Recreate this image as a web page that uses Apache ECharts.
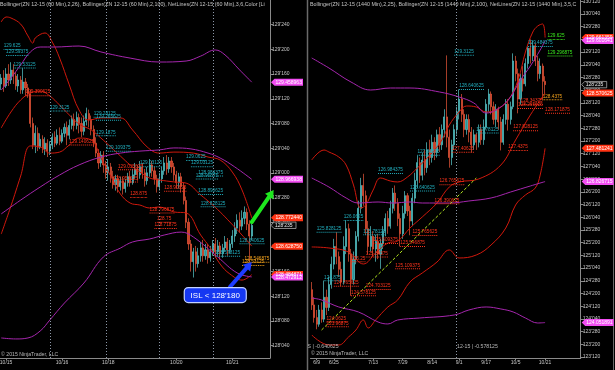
<!DOCTYPE html>
<html><head><meta charset="utf-8">
<script src="https://cdn.jsdelivr.net/npm/echarts@6/dist/echarts.min.js"></script>
<style>html,body{margin:0;padding:0;background:#000;}#c{width:615px;height:370px;}</style>
</head><body><div id="c"></div>
<script>
// ---------- DATA ----------
// Left panel: ZN 12-15 60-minute bars [open, close, low, high]
const leftCandles = [
[129.45,129.48,129.42,129.50],[129.48,129.44,129.41,129.52],[129.44,129.50,129.43,129.53],[129.50,129.47,129.44,129.55],
[129.47,129.52,129.45,129.56],[129.52,129.49,129.45,129.55],[129.49,129.44,129.42,129.51],[129.44,129.47,129.41,129.50],
[129.47,129.42,129.40,129.49],[129.42,129.46,129.40,129.53],[129.46,129.43,129.39,129.48],[129.43,129.40,129.38,129.45],
[129.40,129.25,129.23,129.42],[129.25,129.14,129.12,129.28],[129.14,129.20,129.10,129.24],[129.20,129.13,129.11,129.23],
[129.13,129.17,129.12,129.20],[129.17,129.12,129.10,129.19],[129.12,129.15,129.09,129.18],[129.15,129.11,129.08,129.17],
[129.11,129.14,129.09,129.16],[129.14,129.18,129.12,129.20],[129.18,129.15,129.13,129.21],[129.15,129.19,129.14,129.22],
[129.19,129.16,129.14,129.23],[129.16,129.20,129.15,129.22],[129.20,129.23,129.18,129.25],[129.23,129.19,129.14,129.26],
[129.19,129.24,129.17,129.27],[129.24,129.27,129.22,129.29],[129.27,129.24,129.21,129.30],[129.24,129.28,129.22,129.31],
[129.28,129.25,129.20,129.30],[129.25,129.21,129.18,129.28],[129.21,129.26,129.19,129.29],[129.26,129.30,129.24,129.33],
[129.30,129.27,129.23,129.32],[129.27,129.22,129.19,129.29],[129.22,129.15,129.13,129.24],[129.15,129.10,129.08,129.18],
[129.10,129.05,129.02,129.12],[129.05,129.09,129.03,129.11],[129.09,129.04,129.00,129.11],[129.04,129.00,128.97,129.06],
[129.00,129.03,128.96,129.07],[129.03,128.98,128.95,129.05],[128.98,128.94,128.92,129.01],[128.94,128.97,128.91,128.99],
[128.97,128.93,128.90,128.99],[128.93,128.96,128.91,128.98],[128.96,128.92,128.89,128.98],[128.92,128.95,128.90,128.97],
[128.95,128.98,128.93,129.00],[128.98,128.95,128.93,129.01],[128.95,128.99,128.94,129.02],[128.99,129.02,128.97,129.05],
[129.02,128.99,128.96,129.04],[128.99,129.03,128.97,129.06],[129.03,129.00,128.97,129.05],[129.00,128.96,128.93,129.02],
[128.96,129.00,128.94,129.03],[129.00,129.04,128.98,129.07],[129.04,129.01,128.98,129.06],[129.01,128.97,128.94,129.03],
[128.97,128.93,128.90,128.99],[128.93,128.97,128.91,129.00],[128.97,129.01,128.95,129.03],[129.01,129.05,128.99,129.08],
[129.05,129.02,128.99,129.09],[129.02,129.06,129.00,129.08],[129.06,129.03,129.00,129.08],[129.03,128.99,128.96,129.05],
[128.99,128.95,128.92,129.01],[128.95,128.98,128.92,129.00],[128.98,128.93,128.90,129.00],[128.93,128.86,128.84,128.95],
[128.86,128.75,128.72,128.88],[128.75,128.64,128.61,128.77],[128.64,128.55,128.50,128.66],[128.55,128.60,128.47,128.62],
[128.60,128.54,128.50,128.63],[128.54,128.58,128.52,128.62],[128.58,128.62,128.55,128.65],[128.62,128.58,128.55,128.66],
[128.58,128.61,128.56,128.64],[128.61,128.57,128.54,128.64],[128.57,128.60,128.55,128.63],[128.60,128.64,128.58,128.66],
[128.64,128.60,128.57,128.67],[128.60,128.63,128.58,128.66],[128.63,128.59,128.56,128.65],[128.59,128.62,128.57,128.64],
[128.62,128.65,128.60,128.68],[128.65,128.61,128.58,128.67],[128.61,128.64,128.59,128.66],[128.64,128.68,128.62,128.71],
[128.68,128.72,128.65,128.75],[128.72,128.76,128.69,128.79],[128.76,128.73,128.70,128.80],[128.73,128.77,128.71,128.81],
[128.77,128.80,128.74,128.83],[128.80,128.74,128.71,128.82],[128.74,128.68,128.55,128.76],[128.68,128.734375,128.66,128.75]
];
// Right panel: ZN 12-15 daily bars [open, close, low, high]
const rightCandles = [
[124.70,124.40,124.30,124.85],[124.40,124.15,124.05,124.55],[124.15,124.02,123.92,124.30],[124.02,124.30,123.97,124.40],
[124.30,124.12,124.05,124.45],[124.12,124.55,124.06,124.88],[124.55,124.35,124.20,124.70],[124.35,124.80,124.28,124.95],
[124.80,125.20,124.72,125.35],[125.20,125.55,125.10,125.70],[125.55,125.35,125.20,125.83],[125.35,125.10,124.95,125.45],
[125.10,124.85,124.77,125.25],[124.85,125.55,124.80,125.75],[125.55,125.90,125.40,126.06],[125.90,125.40,125.25,126.00],
[125.40,124.90,124.58,125.50],[124.90,125.30,124.80,125.45],[125.30,125.75,125.20,125.85],[125.75,126.30,125.65,126.45],
[126.30,126.75,126.20,126.90],[126.75,126.55,126.35,126.98],[126.55,125.90,125.78,126.65],[125.90,125.55,125.40,126.05],
[125.55,125.75,125.45,125.95],[125.75,125.50,125.35,125.85],[125.50,125.65,125.25,125.78],[125.65,125.40,125.30,125.80],
[125.40,125.60,125.11,125.70],[125.60,125.85,125.50,125.95],[125.85,126.10,125.75,126.20],[126.10,125.95,125.80,126.25],
[125.95,126.30,125.90,126.45],[126.30,126.60,126.20,126.70],[126.60,126.40,126.25,126.75],[126.40,126.10,125.95,126.50],
[126.10,125.80,125.55,126.20],[125.80,126.20,125.70,126.35],[126.20,126.55,126.10,126.64],[126.55,126.25,126.15,126.60],
[126.25,126.05,125.77,126.35],[126.05,126.50,125.95,126.60],[126.50,126.85,126.40,127.00],[126.85,127.20,126.70,127.34],
[127.20,126.95,126.80,127.30],[126.95,127.25,126.85,127.40],[127.25,127.10,126.95,127.45],[127.10,127.45,127.00,127.60],
[127.45,127.30,127.15,127.65],[127.30,127.60,127.20,127.75],[127.60,127.40,127.25,127.70],[127.40,127.75,127.30,127.85],
[127.75,127.55,127.41,127.90],[127.55,127.85,127.45,127.95],[127.85,128.10,127.70,128.25],[128.10,127.70,127.50,129.31],
[127.70,127.30,127.10,127.85],[127.30,127.55,127.15,127.65],[127.55,127.85,127.45,127.95],[127.85,128.20,127.75,128.30],
[128.20,128.45,128.05,128.64],[128.45,128.15,128.00,128.55],[128.15,127.85,127.70,128.25],[127.85,128.05,127.75,128.15],
[128.05,127.80,127.60,128.15],[127.80,127.55,127.40,127.90],[127.55,127.75,127.45,127.85],[127.75,127.60,127.45,127.78],
[127.60,127.85,127.50,127.95],[127.85,127.65,127.55,127.95],[127.65,127.90,127.55,128.05],[127.90,128.35,127.85,128.45],
[128.35,128.55,128.20,128.65],[128.55,128.30,128.15,128.60],[128.30,128.05,127.95,128.40],[128.05,128.25,127.90,128.35],
[128.25,128.00,127.85,128.30],[128.00,127.60,127.44,128.10],[127.60,128.05,127.55,128.15],[128.05,128.35,127.95,128.45],
[128.35,128.05,127.83,128.45],[128.05,128.30,127.95,128.40],[128.30,129.20,128.25,129.35],[129.20,128.95,128.80,129.30],
[128.95,128.45,128.17,129.05],[128.45,128.85,128.34,128.95],[128.85,128.75,128.60,129.10],[128.75,129.15,128.70,129.25],
[129.15,129.45,129.05,129.48],[129.45,129.30,129.15,129.625],[129.30,129.50,129.20,129.60],[129.50,129.20,129.10,129.55],
[129.20,128.95,128.80,129.30],[128.95,129.10,128.85,129.25],[129.10,128.80,128.44,129.15],[128.80,128.734375,128.55,128.90]
];

// Bollinger bands [barIndex, price]
const leftBB26Upper = [[0,129.764],[2,129.789],[4,129.784],[8,129.753],[11,129.693],[13,129.657],[14,129.683],[18,129.708],[21,129.662],[24,129.581],[28,129.445],[32,129.318],[36,129.267],[41,129.278],[49,129.278],[54,129.217],[60,129.131],[65,129.100],[71,129.105],[79,129.100],[85,129.080],[90,129.065],[95,129.004],[99,128.913],[103,128.772]];
const leftBB26Mid = [[0,129.227],[4,129.308],[8,129.369],[12,129.404],[16,129.414],[20,129.389],[24,129.343],[28,129.293],[32,129.247],[37,129.217],[41,129.176],[45,129.131],[49,129.085],[53,129.040],[57,129.004],[61,128.974],[65,128.964],[71,128.954],[76,128.948],[82,128.888],[86,128.847],[90,128.802],[94,128.751],[99,128.685],[103,128.629]];
const leftBB26Lower = [[0,128.690],[4,128.832],[8,128.984],[12,129.136],[16,129.131],[20,129.100],[24,129.105],[28,129.141],[32,129.176],[37,129.166],[41,129.075],[45,128.984],[49,128.893],[53,128.847],[57,128.837],[61,128.822],[65,128.827],[71,128.802],[76,128.797],[82,128.685],[86,128.619],[90,128.538],[94,128.488],[99,128.457],[103,128.485]];
const leftBB100Upper = [[0,129.419],[4,129.480],[8,129.546],[12,129.612],[16,129.637],[22,129.637],[32,129.642],[41,129.612],[53,129.581],[65,129.561],[76,129.566],[82,129.591],[88,129.622],[92,129.597],[98,129.521],[103,129.459]];
const leftBB100Mid = [[0,128.792],[8,128.862],[16,128.928],[24,128.989],[32,129.040],[41,129.080],[49,129.100],[57,129.110],[65,129.116],[71,129.126],[78,129.121],[85,129.100],[90,129.075],[96,129.030],[103,128.967]];
const leftBB100Lower = [[0,128.164],[6,128.159],[11,128.164],[16,128.199],[20,128.255],[26,128.341],[34,128.442],[42,128.574],[49,128.619],[54,128.650],[61,128.665],[67,128.685],[74,128.700],[79,128.675],[89,128.574],[97,128.493],[103,128.473]];

const rightBB100Upper = [[0,129.259],[7,129.062],[16,128.786],[24,128.629],[32,128.668],[40,128.668],[52,128.590],[60,128.491],[66,128.373],[71,128.176],[75,128.235],[80,128.432],[85,128.826],[89,129.101],[93,129.416],[95,129.602]];
const rightBB100Mid = [[0,126.897],[7,126.720],[14,126.504],[19,126.405],[27,126.425],[33,126.405],[40,126.425],[45,126.405],[56,126.405],[64,126.445],[73,126.504],[81,126.622],[89,126.740],[95,126.827]];
const rightBB100Lower = [[0,124.536],[4,124.497],[11,124.359],[19,124.261],[27,124.064],[31,124.025],[35,124.103],[44,124.142],[58,124.201],[64,124.300],[71,124.359],[77,124.320],[82,124.261],[87,124.142],[92,124.044],[95,124.052]];
const rightBB25Upper = [[0,127.252],[5,127.448],[7,127.409],[11,127.311],[14,127.153],[17,126.760],[20,126.307],[22,126.366],[25,126.661],[28,126.897],[32,126.838],[35,126.819],[39,126.917],[43,127.094],[47,127.291],[50,127.448],[53,127.645],[56,127.940],[60,128.196],[63,128.314],[67,128.294],[71,128.196],[75,128.235],[80,128.432],[84,128.826],[87,129.377],[90,129.770],[92,129.888],[94,129.928],[95,129.662]];
const rightBB25Mid = [[0,125.540],[7,125.520],[15,125.441],[21,125.205],[26,125.421],[31,125.618],[35,125.658],[40,125.913],[45,126.130],[51,126.405],[56,126.720],[60,126.819],[68,126.878],[77,127.153],[83,127.645],[89,128.137],[95,128.571]];
const rightBB25Lower = [[0,123.808],[7,123.611],[11,123.611],[15,123.769],[18,123.906],[21,124.103],[23,123.946],[26,124.103],[31,124.359],[35,124.497],[40,124.851],[45,125.028],[51,125.244],[56,125.481],[60,125.323],[67,125.382],[73,125.579],[79,125.913],[83,126.366],[87,126.563],[91,126.700],[93,126.956],[95,127.481]];
const rightTrend = [[4,123.906],[67,126.897]];

// NetLines labels [barIndex, price]
const leftHighLbl = [[1,129.625],[2,129.59375],[5,129.53125],[20,129.3125],[38,129.28125],[39,129.265625],[39,129.1875],[43,129.109375],[57,129.03125],[76,129.0625],[78,129.03125],[81,128.984375],[80,128.96875],[81,128.890625],[82,128.828125],[88,128.578125],[98,128.640625]];
const leftLowLbl = [[10,129.390625],[28,129.140625],[48,129.015625],[46,128.953125],[53,128.875],[67,128.90625],[61,128.796875],[64,128.75],[63,128.71875]];
const leftLastLbl = [[100,128.546875],[99,128.53125]];
const rightHighLbl = [[5,124.875],[2,125.828125],[13,126.0625],[21,125.78125],[27,126.984375],[40,126.640625],[43,127.34375],[58,129.3125],[60,128.640625],[67,127.78125],[88,129.484375]];
const rightTopLbl = [[96,129.625],[96,129.296875]];
const rightLowLbl = [[6,124.0625],[6,123.96875],[9,124.765625],[16,124.578125],[22,124.703125],[25,125.609375],[22,125.34375],[16,125.25],[41,125.765625],[36,125.546875],[34,125.109375],[50,126.390625],[52,126.765625],[57,127.40625],[82,127.828125],[80,127.4375],[85,128.34375],[84,128.265625],[95,128.171875]];
const rightLastLbl = [[94,128.4375]];

// Axis ticks
const leftYTicks = [128.125,128.25,128.375,128.5,128.625,128.75,128.875,129,129.125,129.25,129.375,129.5,129.625,129.75];
const rightYTicks = [123.375,123.625,123.875,124.125,124.375,124.625,124.875,125.125,125.375,125.625,125.875,126.125,126.375,126.625,126.875,127.125,127.375,127.625,127.875,128.125,128.375,128.625,128.875,129.125,129.375,129.625,129.875,130.125,130.375];
const leftXTickIdx = [2,25,44,72,95];
const leftXTickText = ['10/15','10/16','10/18','10/20','10/21'];
const rightXTickIdx = [2,9,25,37,49,60,71,83,95];
const rightXTickText = ['6/9','6/25','7/13','7/29','8/14','9/1','9/17','10/5','10/21'];
const leftSessions = [20,43,65,87];
const rightSessions = [59];

// Price markers at the axis
const leftTagsRed = [128.484871,128.772440,128.628750];
const leftTagsPink = [129.458963,128.966938,128.472912];
const rightTagsRed = [129.661359,128.570625,127.481241];
const rightTagsPink = [129.601641,126.826715,124.051891];
const lastPrice = 128.734375;
const islLevel = "ISL < 128'180";
// annotation anchors [barIndex, price]
const greenArrow = [[103,128.751],[112,128.913]];
const blueArrow = [[94,128.422],[103,128.548]];
const islBoxAt = [88,128.381];

// ---------- CHART ----------
const FONT = '"Liberation Sans", Arial, sans-serif';
const chart = echarts.init(document.getElementById('c'), null, {renderer:'canvas', width:615, height:370});
function fmt32(v){ const i = Math.floor(v + 1e-9); const f = Math.round((v - i) * 320); return i + "'" + String(f).padStart(3,'0'); }
const LN = 111, RN = 110;
const leftCats = Array.from({length:LN}, (_, i) => String(i));
const rightCats = Array.from({length:RN}, (_, i) => String(i));
const AX = '#8a8a8a', TXT = '#c8c8c8';
const RED = '#d0180c', PURPLE = '#a526ad';
const CYAN = '#21aebe', LRED = '#ff341c', ORANGE = '#f4a21c', LIME = '#3cf21e';

function xAxisCfg(g, cats, idx, txt){
  return {type:'category', gridIndex:g, data:cats, boundaryGap:true,
    axisLine:{show:true, lineStyle:{color:AX, width:1}},
    axisTick:{show:true, alignWithLabel:true, interval:(i)=>idx.includes(i), length:2, lineStyle:{color:AX}},
    axisLabel:{show:true, interval:(i)=>idx.includes(i), formatter:(v)=>{const k = idx.indexOf(Number(v)); return k >= 0 ? txt[k] : '';}, color:TXT, fontSize:5, fontFamily:FONT, margin:2.5},
    splitLine:{show:false}};
}
function yAxisCfg(g, min, max, ticks){
  return {type:'value', gridIndex:g, position:'right', min, max, scale:true,
    axisLine:{show:true, lineStyle:{color:AX}},
    axisTick:{show:true, length:3, customValues:ticks, lineStyle:{color:AX}},
    axisLabel:{show:true, customValues:ticks, formatter:(v)=>fmt32(v), color:TXT, fontSize:5, fontFamily:FONT, margin:2},
    splitLine:{show:false}};
}
function band(g, data, color){
  return {type:'line', xAxisIndex:g, yAxisIndex:g, data, smooth:0.4, symbol:'none', silent:true, z:3,
    lineStyle:{color, width:1}};
}
const DOTS = 'path://' + Array.from({length:13}, (_, k) => 'M' + (2*k) + ' 0h1v1H' + (2*k) + 'z').join(' ');
const LFS = 4.7;
function textW(s){ return ((s.length - 1) * 0.556 + 0.278) * LFS; }
function netLabels(g, arr, color){
  return {type:'scatter', xAxisIndex:g, yAxisIndex:g, z:5, silent:true, symbol:DOTS, symbolKeepAspect:false,
    data: arr.map(p => { const w = textW(String(p[1])); return {value:p, symbolSize:[w,1], symbolOffset:[w/2, 0]}; }),
    itemStyle:{color, opacity:1},
    label:{show:true, position:'top', distance:0.5, formatter:(p)=>String(p.value[1]), color, fontSize:LFS, fontFamily:FONT}};
}
function candles(g, data, sessions){
  return {type:'candlestick', xAxisIndex:g, yAxisIndex:g, data, barWidth:1.6, z:2, silent:true,
    itemStyle:{color:'#2a9397', color0:'#c8402a', borderColor:'#5ccbce', borderColor0:'#ec573a', borderWidth:0.7},
    markLine:{symbol:['none','none'], silent:true, label:{show:false}, animation:false,
      lineStyle:{color:'#8d98a8', type:[1,2], width:1}, data: sessions.map(i => ({xAxis:i}))}};
}

chart.setOption({
  backgroundColor:'#000',
  animation:false,
  grid:[
    {left:0, top:0, width:270, height:358, containLabel:false, outerBoundsMode:'none'},
    {left:310.5, top:0, width:270.2, height:358, containLabel:false, outerBoundsMode:'none'}
  ],
  xAxis:[xAxisCfg(0, leftCats, leftXTickIdx, leftXTickText), xAxisCfg(1, rightCats, rightXTickIdx, rightXTickText)],
  yAxis:[yAxisCfg(0, 128.0625, 129.875, leftYTicks), yAxisCfg(1, 123.355, 130.4, rightYTicks)],
  series:[
    candles(0, leftCandles, leftSessions),
    band(0, leftBB26Upper, RED), band(0, leftBB26Mid, RED), band(0, leftBB26Lower, RED),
    band(0, leftBB100Upper, PURPLE), band(0, leftBB100Mid, PURPLE), band(0, leftBB100Lower, PURPLE),
    netLabels(0, leftHighLbl, CYAN), netLabels(0, leftLowLbl, LRED), netLabels(0, leftLastLbl, ORANGE),
    candles(1, rightCandles, rightSessions),
    band(1, rightBB25Upper, RED), band(1, rightBB25Mid, RED), band(1, rightBB25Lower, RED),
    band(1, rightBB100Upper, PURPLE), band(1, rightBB100Mid, PURPLE), band(1, rightBB100Lower, PURPLE),
    {type:'line', xAxisIndex:1, yAxisIndex:1, data:rightTrend, symbol:'none', silent:true, z:4,
      lineStyle:{color:'#b6ea1e', width:1, type:[3,2]}},
    netLabels(1, rightHighLbl, CYAN), netLabels(1, rightLowLbl, LRED), netLabels(1, rightLastLbl, ORANGE), netLabels(1, rightTopLbl, LIME)
  ]
});

// ---------- overlays positioned through the chart's scales ----------
const AXL = 270, AXR = 580.7;
const yL = v => chart.convertToPixel({yAxisIndex:0}, v);
const yR = v => chart.convertToPixel({yAxisIndex:1}, v);
const pL = p => chart.convertToPixel({xAxisIndex:0, yAxisIndex:0}, p);
const G = [];
function txt(x, y, s, color, size, extra){
  G.push(Object.assign({type:'text', z:120, silent:true, style:Object.assign({text:s, x, y, fill:color, fontSize:size, fontFamily:FONT, verticalAlign:'middle'}, extra || {})}));
}
function tag(ax, y, v, fill){
  G.push({type:'polygon', z:110, silent:true, shape:{points:[[ax+1,y],[ax+4.5,y-3.5],[ax+33,y-3.5],[ax+33,y+3.5],[ax+4.5,y+3.5]]}, style:{fill}});
  G.push({type:'text', z:111, silent:true, style:{text:v.toFixed(6), x:ax+5.5, y:y+0.3, fill:'#fff', fontSize:5, fontFamily:FONT, verticalAlign:'middle'}});
}
function lastBox(ax, y){
  G.push({type:'polygon', z:110, silent:true, shape:{points:[[ax+1,y],[ax+4,y-3.2],[ax+26,y-3.2],[ax+26,y+3.2],[ax+4,y+3.2]]}, style:{fill:'#0a0a0a', stroke:'#a8a8a8', lineWidth:0.8}});
  G.push({type:'text', z:111, silent:true, style:{text:fmt32(lastPrice), x:ax+5, y:y+0.3, fill:'#e8e8e8', fontSize:5, fontFamily:FONT, verticalAlign:'middle'}});
}
leftTagsRed.forEach(v => tag(AXL, yL(v), v, '#ff3212'));
leftTagsPink.forEach(v => tag(AXL, yL(v), v, '#f24ef2'));
rightTagsRed.forEach(v => tag(AXR, yR(v), v, '#ff3212'));
rightTagsPink.forEach(v => tag(AXR, yR(v), v, '#f24ef2'));
lastBox(AXL, yL(lastPrice));
lastBox(AXR, yR(lastPrice));

function arrow(a, b, color){
  const p0 = pL(a), p1 = pL(b);
  const dx = p1[0]-p0[0], dy = p1[1]-p0[1], L = Math.hypot(dx, dy), ux = dx/L, uy = dy/L, nx = -uy, ny = ux;
  const hb = [p1[0]-ux*8, p1[1]-uy*8];
  G.push({type:'line', z:115, silent:true, shape:{x1:p0[0], y1:p0[1], x2:hb[0]+ux*1, y2:hb[1]+uy*1}, style:{stroke:color, lineWidth:4, lineCap:'round'}});
  G.push({type:'polygon', z:115, silent:true, shape:{points:[[p1[0],p1[1]],[hb[0]+nx*5,hb[1]+ny*5],[hb[0]-nx*5,hb[1]-ny*5]]}, style:{fill:color}});
}
arrow(greenArrow[0], greenArrow[1], '#1ee81e');
arrow(blueArrow[0], blueArrow[1], '#1d3cff');
const ic = pL(islBoxAt);
G.push({type:'rect', z:116, silent:true, shape:{x:ic[0]-31, y:ic[1]-7.5, width:62, height:15, r:4}, style:{fill:'#1638f2', stroke:'#c4d2ff', lineWidth:1.2}});
G.push({type:'text', z:117, silent:true, style:{text:islLevel, x:ic[0], y:ic[1]+0.5, fill:'#ffffff', fontSize:8, fontFamily:FONT, align:'center', verticalAlign:'middle'}});

// headers and footers
txt(0, 5, 'Bollinger(ZN 12-15 (60 Min),2,26), Bollinger(ZN 12-15 (60 Min),2,100), NetLines(ZN 12-15 (60 Min),3,6,Color [Lim', '#c4c4c4', 5.35, {width:269, overflow:'truncate', ellipsis:''});
txt(310, 5, 'Bollinger(ZN 12-15 (1440 Min),2,25), Bollinger(ZN 12-15 (1440 Min),2,100), NetLines(ZN 12-15 (1440 Min),3,5,Col', '#c4c4c4', 5.35, {width:268, overflow:'truncate', ellipsis:''});
txt(1, 355, '\u00a9 2015 NinjaTrader, LLC', '#b8b8b8', 5.2);
txt(311, 354, '\u00a9 2015 NinjaTrader, LLC', '#b8b8b8', 5.2);
txt(307.5, 347, 'S | -0.640625', '#b8b8b8', 5.2);
txt(457, 347, '12-15 | -0.578125', '#b8b8b8', 5.2);
// panel separators
G.push({type:'line', z:90, silent:true, shape:{x1:307.5, y1:0, x2:307.5, y2:370}, style:{stroke:'#6a6a6a', lineWidth:1.5}});
G.push({type:'line', z:90, silent:true, shape:{x1:613.5, y1:0, x2:613.5, y2:370}, style:{stroke:'#6a6a6a', lineWidth:1}});
chart.setOption({graphic:{elements:G}});
</script></body></html>
